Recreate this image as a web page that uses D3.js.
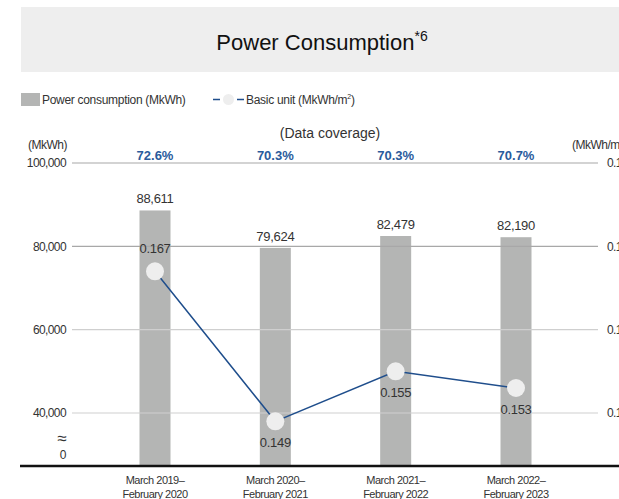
<!DOCTYPE html>
<html>
<head>
<meta charset="utf-8">
<script src="https://cdn.jsdelivr.net/npm/d3@7"></script>
<style>
  html, body { margin: 0; padding: 0; background: #fff; }
  svg { display: block; font-family: "Liberation Sans", Arial, Helvetica, sans-serif; }
</style>
</head>
<body>
<svg id="chart" width="619" height="499"></svg>
<script>
// Fiscal-year periods
const periods = [
  ["March 2019–", "February 2020"],
  ["March 2020–", "February 2021"],
  ["March 2021–", "February 2022"],
  ["March 2022–", "February 2023"]
];
// Power consumption (MkWh)
const consumption = [88611, 79624, 82479, 82190];
// Basic unit (MkWh/m²)
const basicUnit = [0.167, 0.149, 0.155, 0.153];
// Data coverage
const coverage = ["72.6%", "70.3%", "70.3%", "70.7%"];
// Axis ticks
const leftTicks = [40000, 60000, 80000, 100000];
const rightTicks = [0.15, 0.16, 0.17, 0.18];

const svg = d3.select("#chart");

// Title band
svg.append("rect").attr("x", 21).attr("y", 7).attr("width", 598).attr("height", 65).attr("fill", "#eeeeee");
const title = svg.append("text").attr("x", 322).attr("y", 50).attr("text-anchor", "middle")
  .attr("font-size", 22).attr("fill", "#111");
title.append("tspan").text("Power Consumption");
title.append("tspan").text("*6").attr("font-size", 14).attr("dy", -9);

// Legend
svg.append("rect").attr("x", 21).attr("y", 93).attr("width", 19).attr("height", 13).attr("fill", "#b4b5b4");
svg.append("text").attr("x", 42).attr("y", 104).attr("font-size", 12).attr("fill", "#333")
  .attr("letter-spacing", -0.3).text("Power consumption (MkWh)");
svg.append("line").attr("x1", 213).attr("x2", 244).attr("y1", 99.5).attr("y2", 99.5)
  .attr("stroke", "#1f4e8c").attr("stroke-width", 1.5).attr("stroke-dasharray", "7,17");
svg.append("circle").attr("cx", 228.5).attr("cy", 99.5).attr("r", 5.5).attr("fill", "#eeeeee");
const lg = svg.append("text").attr("x", 246).attr("y", 104).attr("font-size", 12).attr("fill", "#333")
  .attr("letter-spacing", -0.3);
lg.append("tspan").text("Basic unit (MkWh/m");
lg.append("tspan").text("2").attr("font-size", 7).attr("dy", -5);
lg.append("tspan").text(")").attr("dy", 5);

// Scales
const x = d3.scalePoint().domain(d3.range(periods.length)).range([155, 516]);
const yL = d3.scaleLinear().domain([40000, 100000]).range([413, 163]);
const yR = d3.scaleLinear().domain([0.15, 0.18]).range([413, 163]);
const baseY = 466;
const barW = 31;

// Unit labels
svg.append("text").attr("x", 28).attr("y", 149).attr("font-size", 12).attr("fill", "#333")
  .attr("letter-spacing", -0.5).text("(MkWh)");
const ru = svg.append("text").attr("x", 572).attr("y", 149).attr("font-size", 12).attr("fill", "#333")
  .attr("letter-spacing", -0.5);
ru.append("tspan").text("(MkWh/m");
ru.append("tspan").text("2").attr("font-size", 7).attr("dy", -5);
ru.append("tspan").text(")").attr("dy", 5);
svg.append("text").attr("x", 330).attr("y", 138).attr("text-anchor", "middle").attr("font-size", 14)
  .attr("fill", "#333").text("(Data coverage)");

// Bars
svg.append("g").selectAll("rect").data(consumption).join("rect")
  .attr("x", (d, i) => x(i) - barW / 2)
  .attr("y", d => yL(d))
  .attr("width", barW)
  .attr("height", d => baseY - yL(d))
  .attr("fill", "#b4b5b4");

// Gridlines (drawn over the bars)
svg.append("g").selectAll("line").data(leftTicks).join("line")
  .attr("x1", 72).attr("x2", 598)
  .attr("y1", d => yL(d)).attr("y2", d => yL(d))
  .attr("stroke", d => d >= 80000 ? "#a8a8a8" : "#cfcfcf").attr("stroke-width", 1.2);

// Left axis labels
const leftAxis = d3.axisLeft(yL).tickValues(leftTicks).tickSize(0).tickPadding(0)
  .tickFormat(d3.format(","));
const la = svg.append("g").attr("transform", "translate(66,0)").call(leftAxis);
la.select(".domain").remove();
la.selectAll("text").attr("font-size", 12).attr("fill", "#333").attr("letter-spacing", -0.6)
  .attr("font-family", "'Liberation Sans', Arial, sans-serif");

// Right axis labels
const rightAxis = d3.axisRight(yR).tickValues(rightTicks).tickSize(0).tickPadding(0)
  .tickFormat(d3.format(".2f"));
const ra = svg.append("g").attr("transform", "translate(607,0)").call(rightAxis);
ra.select(".domain").remove();
ra.selectAll("text").attr("font-size", 12).attr("fill", "#333").attr("letter-spacing", -0.6)
  .attr("font-family", "'Liberation Sans', Arial, sans-serif");

// Zero label and axis-break mark
svg.append("text").attr("x", 63).attr("y", 459).attr("text-anchor", "middle").attr("font-size", 12)
  .attr("fill", "#333").text("0");
svg.append("text").attr("x", 62).attr("y", 444).attr("text-anchor", "middle").attr("font-size", 17)
  .attr("fill", "#333").text("≈");

// Baseline
svg.append("line").attr("x1", 20).attr("x2", 619).attr("y1", baseY).attr("y2", baseY)
  .attr("stroke", "#111").attr("stroke-width", 2.5);

// Coverage labels
svg.append("g").selectAll("text").data(coverage).join("text")
  .attr("x", (d, i) => x(i)).attr("y", 160).attr("text-anchor", "middle")
  .attr("font-size", 13).attr("font-weight", "bold").attr("fill", "#2a5b9c").text(d => d);

// Bar value labels
svg.append("g").selectAll("text").data(consumption).join("text")
  .attr("x", (d, i) => x(i)).attr("y", d => yL(d) - 7).attr("text-anchor", "middle")
  .attr("font-size", 13).attr("fill", "#333").attr("letter-spacing", -0.3)
  .text(d => d3.format(",")(d));

// Basic-unit line
const line = d3.line().x((d, i) => x(i)).y(d => yR(d));
svg.append("path").datum(basicUnit).attr("d", line)
  .attr("fill", "none").attr("stroke", "#1f4e8c").attr("stroke-width", 1.5);
svg.append("g").selectAll("circle").data(basicUnit).join("circle")
  .attr("cx", (d, i) => x(i)).attr("cy", d => yR(d)).attr("r", 9).attr("fill", "#eeeeee");

// Basic-unit value labels (first above the marker, others below)
svg.append("g").selectAll("text").data(basicUnit).join("text")
  .attr("x", (d, i) => x(i)).attr("y", (d, i) => i === 0 ? yR(d) - 18 : yR(d) + 26)
  .attr("text-anchor", "middle").attr("font-size", 13).attr("fill", "#333").attr("letter-spacing", -0.3)
  .text(d => d3.format(".3f")(d));

// Period labels
const pl = svg.append("g").selectAll("text").data(periods).join("text")
  .attr("x", (d, i) => x(i)).attr("y", 484).attr("text-anchor", "middle")
  .attr("font-size", 11).attr("fill", "#333").attr("letter-spacing", -0.5);
pl.append("tspan").attr("x", (d, i) => x(i)).text(d => d[0]);
pl.append("tspan").attr("x", (d, i) => x(i)).attr("dy", 14).text(d => d[1]);
</script>
</body>
</html>
